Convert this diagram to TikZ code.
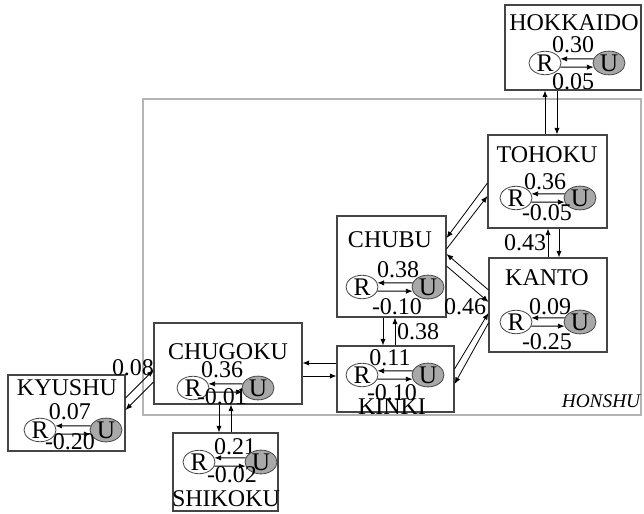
\documentclass[tikz,border=0pt]{standalone}
\usepackage{fontspec}
\setmainfont{Liberation Serif}
\usetikzlibrary{arrows.meta,shapes.geometric,fit}
\definecolor{boxc}{HTML}{454545}
\definecolor{honc}{HTML}{B4B4B4}
\definecolor{ufill}{HTML}{A8A8A8}
\tikzset{
  regbox/.style={draw=boxc,line width=0.8pt,inner sep=0pt,rectangle},
  honbox/.style={draw=honc,line width=0.8pt,inner sep=0pt,rectangle},
  txt/.style={inner sep=0pt,font=\fontsize{18}{18}\selectfont},
  rn/.style={ellipse,draw=boxc,line width=0.6pt,fill=white,minimum width=24pt,minimum height=16.5pt,inner sep=0pt,font=\fontsize{19}{19}\selectfont},
  un/.style={rn,fill=ufill},
  arr/.style={-{Latex[length=5pt,width=4pt]},line width=0.6pt,black},
}
\newcommand{\ru}[1]{%
  \draw[arr] (#1U.165) -- (#1R.15);
  \draw[arr] (#1R.-15) -- (#1U.195);}
\begin{document}
\begin{tikzpicture}[x=0.75pt,y=-0.75pt]
\useasboundingbox (0,0) rectangle (644,514);
% region boxes
\node[honbox,fit={(143,99) (641,415)}] (hon) {};
\node[regbox,fill=white,fit={(505,5) (641,90)}] (hok) {};
\node[regbox,fill=white,fit={(488,135) (607,228)}] (toh) {};
\node[regbox,fill=white,fit={(489,258) (607,352)}] (kan) {};
\node[regbox,fill=white,fit={(337,216) (446,317)}] (chb) {};
\node[regbox,fill=white,fit={(337,346) (454,412)}] (kin) {};
\node[regbox,fill=white,fit={(154,323) (302,404)}] (chg) {};
\node[regbox,fill=white,fit={(8,375) (125,451)}] (kyu) {};
\node[regbox,fill=white,fit={(173,433) (278,511)}] (shi) {};
\node[txt,font=\fontsize{14.5}{14.5}\selectfont\itshape] (honl) at (601,401) {HONSHU};
% HOKKAIDO
\node[txt] (hokt) at (574,23) {HOKKAIDO};
\node[txt] (hoka) at (573,45) {0.30};
\node[rn] (hokR) at (545,63) {R};
\node[un] (hokU) at (609,63) {U};
\node[txt] (hokb) at (573,82) {0.05};
\ru{hok}
% TOHOKU
\node[txt] (toht) at (547,155) {TOHOKU};
\node[txt] (toha) at (545,182) {0.36};
\node[rn] (tohR) at (516,198) {R};
\node[un] (tohU) at (580,198) {U};
\node[txt] (tohb) at (547,213) {-0.05};
\ru{toh}
% KANTO
\node[txt] (kant) at (547,278) {KANTO};
\node[txt] (kana) at (550,307) {0.09};
\node[rn] (kanR) at (516,322) {R};
\node[un] (kanU) at (580,322) {U};
\node[txt] (kanb) at (547,342) {-0.25};
\ru{kan}
% CHUBU
\node[txt] (chbt) at (390,240) {CHUBU};
\node[txt] (chba) at (398,270) {0.38};
\node[rn] (chbR) at (362,287) {R};
\node[un] (chbU) at (428,287) {U};
\node[txt] (chbb) at (397,307) {-0.10};
\ru{chb}
% KINKI
\node[txt] (kina) at (390,358) {0.11};
\node[rn] (kinR) at (362,375) {R};
\node[un] (kinU) at (428,375) {U};
\node[txt] (kinb) at (392,393) {-0.10};
\node[txt] (kint) at (392,407) {KINKI};
\ru{kin}
% CHUGOKU
\node[txt] (chgt) at (228,352) {CHUGOKU};
\node[txt] (chga) at (222,370) {0.36};
\node[rn] (chgR) at (193,388) {R};
\node[un] (chgU) at (258,388) {U};
\node[txt] (chgb) at (222,397) {-0.01};
\ru{chg}
% KYUSHU
\node[txt] (kyut) at (67,388) {KYUSHU};
\node[txt] (kyua) at (70,412) {0.07};
\node[rn] (kyuR) at (40,430) {R};
\node[un] (kyuU) at (106,430) {U};
\node[txt] (kyub) at (70,442) {-0.20};
\ru{kyu}
% SHIKOKU
\node[txt] (shia) at (235,447) {0.21};
\node[rn] (shiR) at (199,462) {R};
\node[un] (shiU) at (261,462) {U};
\node[txt] (shib) at (232,475) {-0.02};
\node[txt] (shit) at (226,499) {SHIKOKU};
\ru{shi}
% inter-region links
\draw[arr] (toh.north -| 545,0) -- (hok.south -| 545,0);
\draw[arr] (hok.south -| 557,0) -- (toh.north -| 557,0);
\draw[arr] (kan.north -| 548,0) -- (toh.south -| 548,0);
\draw[arr] (toh.south -| 559,0) -- (kan.north -| 559,0);
\node[txt] (l043) at (525,243) {0.43};
\draw[arr] (toh.west |- 0,183) -- (chb.east |- 0,238);
\draw[arr] (chb.east |- 0,249) -- (toh.west |- 0,196);
\draw[arr] (kan.west |- 0,290) -- (chb.east |- 0,254);
\draw[arr] (chb.east |- 0,266) -- (kan.west |- 0,302);
\draw[arr] (kin.east |- 0,369) -- (kan.west |- 0,313);
\draw[arr] (kan.west |- 0,323) -- (kin.east |- 0,384);
\node[txt] (l046) at (465,307) {0.46};
\draw[arr] (chb.south -| 383,0) -- (kin.north -| 383,0);
\draw[arr] (kin.north -| 395,0) -- (chb.south -| 395,0);
\node[txt] (l038) at (418,332) {0.38};
\draw[arr] (kin.west |- 0,363) -- (chg.east |- 0,363);
\draw[arr] (chg.east |- 0,376) -- (kin.west |- 0,376);
\draw[arr] (chg.south -| 219,0) -- (shi.north -| 219,0);
\draw[arr] (shi.north -| 231,0) -- (chg.south -| 231,0);
\draw[arr] (kyu.east |- 0,398) -- (chg.west |- 0,370);
\draw[arr] (chg.west |- 0,382) -- (kyu.east |- 0,410);
\node[txt] (l008) at (133,368) {0.08};
\end{tikzpicture}
\end{document}
